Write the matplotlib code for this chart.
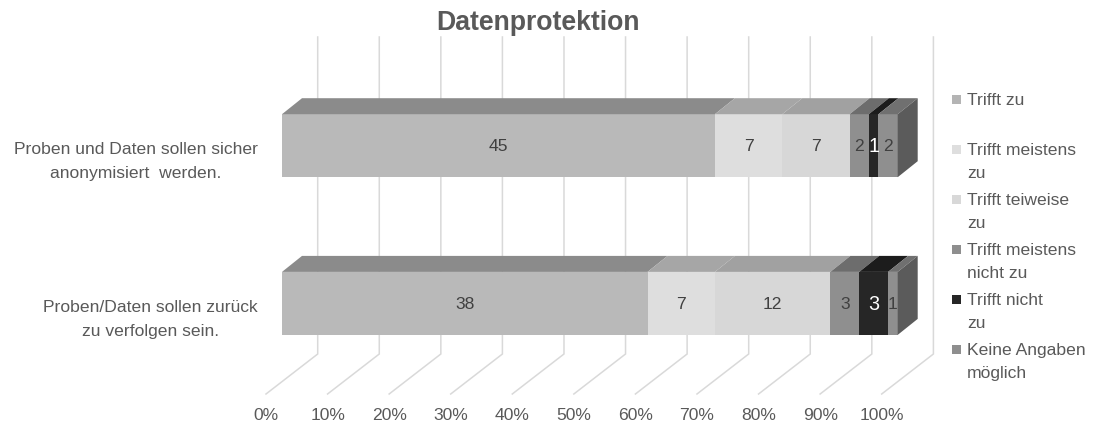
import matplotlib
matplotlib.use("Agg")
import matplotlib.pyplot as plt
from matplotlib.patches import Polygon, Rectangle

# ---- data -----------------------------------------------------------------
title = "Datenprotektion"
categories = [
    "Proben und Daten sollen sicher\nanonymisiert  werden.",
    "Proben/Daten sollen zurück\nzu verfolgen sein.",
]
series_names = [
    "Trifft zu",
    "Trifft meistens\nzu",
    "Trifft teiweise\nzu",
    "Trifft meistens\nnicht zu",
    "Trifft nicht\nzu",
    "Keine Angaben\nmöglich",
]
trifft_zu = [45, 38]
trifft_meistens_zu = [7, 7]
trifft_teilweise_zu = [7, 12]
trifft_meistens_nicht_zu = [2, 3]
trifft_nicht_zu = [1, 3]
keine_angaben = [2, 1]
tick_values = [0, 10, 20, 30, 40, 50, 60, 70, 80, 90, 100]
tick_labels = ["0%", "10%", "20%", "30%", "40%", "50%",
               "60%", "70%", "80%", "90%", "100%"]

series = [trifft_zu, trifft_meistens_zu, trifft_teilweise_zu,
          trifft_meistens_nicht_zu, trifft_nicht_zu, keine_angaben]

# ---- style ----------------------------------------------------------------
front_colors = ["#b9b9b9", "#dedede", "#d7d7d7", "#8f8f8f", "#262626", "#8f8f8f"]
top_colors = ["#8b8b8b", "#a6a6a6", "#a1a1a1", "#6d6d6d", "#1c1c1c", "#707070"]
side_color = "#5b5b5b"
legend_colors = ["#b4b4b4", "#dedede", "#d8d8d8", "#8e8e8e", "#262626", "#8e8e8e"]
label_colors = ["#404040", "#404040", "#404040", "#404040", "#ffffff", "#404040"]
FS = 12.6
label_sizes = [FS, FS, FS, FS, 14.2, FS]
text_grey = "#595959"
grid_grey = "#d9d9d9"

plt.rcParams["font.family"] = ["Liberation Sans", "DejaVu Sans"]

W, H = 1094, 427
fig = plt.figure(figsize=(W / 100, H / 100), dpi=100)
ax = fig.add_axes([0, 0, 1, 1])
ax.axis("off")

# pixel layout of the oblique projection
X0, SX = 282.0, 6.157      # front face: 0 % position and pixels per percent
Y0, SY = 146.7, 157.7      # first row centre and row spacing (pixels from top)
ax.set_xlim(-X0 / SX, (W - X0) / SX)
ax.set_ylim((H - Y0) / SY, -Y0 / SY)


def px_y(p):
    return (p - Y0) / SY


def dx(p):
    return p / SX


BAR_H = 63 / SY
DEPTH_X, DEPTH_Y = dx(20), -16 / SY
WALL_DX, FLOOR_DX = dx(35.7), dx(-16)
WALL_TOP, WALL_BOTTOM, FLOOR_FRONT = px_y(38), px_y(355), px_y(395)

# back wall and floor grid lines
for v in tick_values:
    ax.plot([v + WALL_DX, v + WALL_DX, v + FLOOR_DX],
            [WALL_TOP, WALL_BOTTOM, FLOOR_FRONT],
            color=grid_grey, lw=1.1, zorder=1, solid_joinstyle="miter")

for v, lab in zip(tick_values, tick_labels):
    ax.text(v + FLOOR_DX, px_y(416), lab, ha="center", va="center",
            fontsize=FS, color=text_grey)

# stacked 3D bars
for row in range(len(categories)):
    counts = [s[row] for s in series]
    total = sum(counts)
    left = 0.0
    top_y = row - BAR_H / 2
    bottom_y = row + BAR_H / 2
    for k, c in enumerate(counts):
        w = 100.0 * c / total
        right = left + w
        ax.barh(row, w, left=left, height=BAR_H, color=front_colors[k],
                edgecolor="none", zorder=3)
        ax.add_patch(Polygon([(left, top_y), (right, top_y),
                              (right + DEPTH_X, top_y + DEPTH_Y),
                              (left + DEPTH_X, top_y + DEPTH_Y)],
                             closed=True, facecolor=top_colors[k],
                             edgecolor="none", zorder=3))
        ax.text(left + w / 2, row, str(c), ha="center", va="center",
                fontsize=label_sizes[k], color=label_colors[k], zorder=5)
        left = right
    ax.add_patch(Polygon([(left, top_y), (left, bottom_y),
                          (left + DEPTH_X, bottom_y + DEPTH_Y),
                          (left + DEPTH_X, top_y + DEPTH_Y)],
                         closed=True, facecolor=side_color,
                         edgecolor="none", zorder=3))

# category labels
for row, cat in enumerate(categories):
    ax.text(dx(258 - X0), row + 15 / SY, cat, ha="right", va="center",
            multialignment="center", fontsize=FS, color=text_grey,
            linespacing=1.75)

# title
ax.text(dx(538 - X0), px_y(23), title, ha="center", va="center",
        fontsize=19.2, fontweight="bold", color=text_grey)

# legend
for i, (name, col) in enumerate(zip(series_names, legend_colors)):
    yc = 100 + 50 * i
    ax.add_patch(Rectangle((dx(952 - X0), px_y(yc - 4.5)), dx(9), 9 / SY,
                           facecolor=col, edgecolor="none", zorder=4))
    ax.text(dx(967 - X0), px_y(yc - 7), name, ha="left", va="top",
            fontsize=FS, color=text_grey, linespacing=1.66)

fig.savefig("out.png", dpi=100)
